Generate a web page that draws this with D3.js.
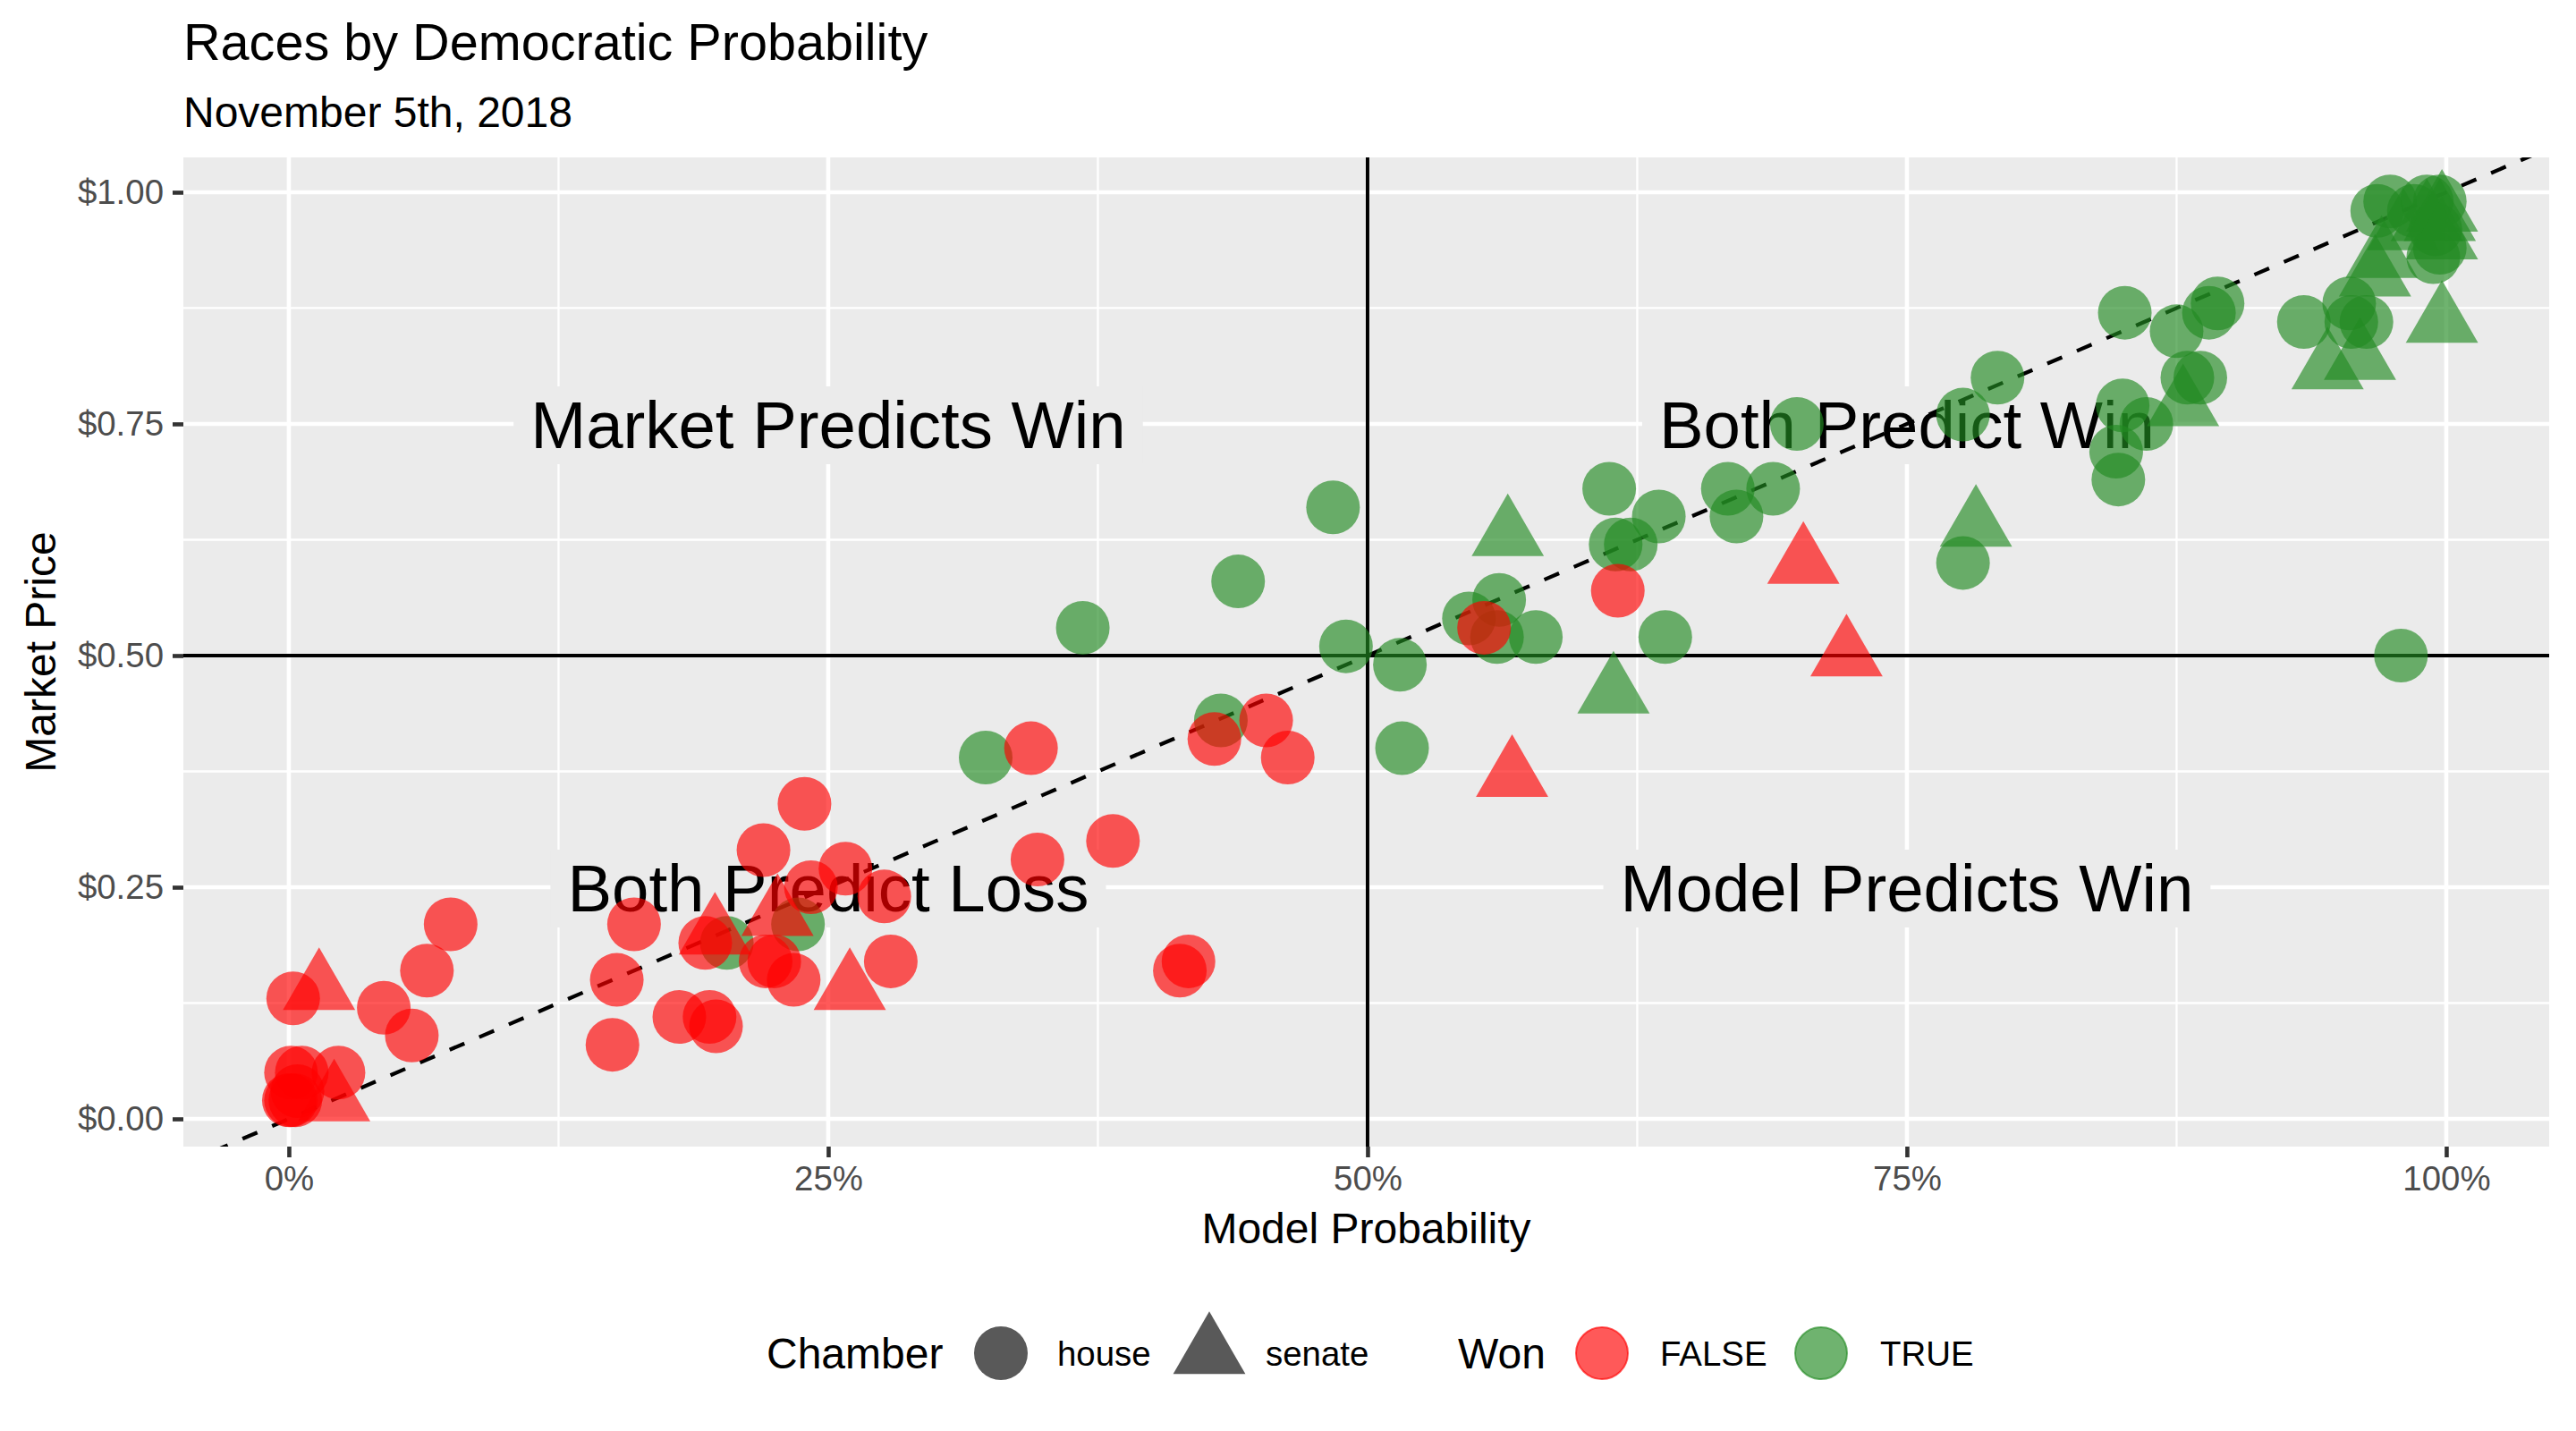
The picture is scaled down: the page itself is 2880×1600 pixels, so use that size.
<!DOCTYPE html>
<html><head><meta charset="utf-8">
<script src="https://cdn.jsdelivr.net/npm/d3@7"></script>
<style>
body{margin:0;background:#fff}
svg{display:block}
text{font-family:"Liberation Sans",Arial,Helvetica,sans-serif}
</style>
</head><body>
<svg id="chart" width="2880" height="1600"></svg>
<script>
// ---------- DATA ----------
// Green (won) first, then red (lost) so red is drawn on top, as in the reference
const modelProb = [
  // won, house
  0.203,0.236,0.323,0.368,0.432,0.44,0.484,0.49,0.515,0.516,0.547,0.561,0.56,0.578,0.638,0.612,0.615,0.622,0.635,0.667,0.671,0.688,0.699,0.776,0.776,0.792,0.847,0.848,0.85,0.851,0.861,0.875,0.88,0.886,0.89,0.894,0.934,0.955,0.956,0.963,0.979,0.968,0.974,0.991,0.997,0.994,0.997,0.995,0.985,
  // won, senate
  0.565,0.614,0.782,0.878,0.945,0.96,0.998,0.967,0.97,0.98,0.998,0.991,0.997,0.998,
  // lost, house
  0.002,0.044,0.057,0.064,0.075,0.001,0.006,0.023,0.001,0.003,0.004,0.0,0.15,0.152,0.16,0.181,0.195,0.198,0.193,0.22,0.239,0.258,0.242,0.276,0.279,0.221,0.225,0.234,0.344,0.347,0.382,0.413,0.417,0.429,0.453,0.463,0.554,0.616,
  // lost, senate
  0.014,0.021,0.1975,0.2265,0.26,0.567,0.702,0.722
];
const marketPrice = [
  0.19,0.21,0.39,0.53,0.43,0.58,0.66,0.51,0.49,0.40,0.54,0.56,0.52,0.52,0.52,0.68,0.62,0.62,0.65,0.68,0.65,0.68,0.75,0.60,0.76,0.80,0.72,0.69,0.77,0.87,0.75,0.85,0.80,0.80,0.87,0.88,0.86,0.88,0.86,0.86,0.50,0.98,0.99,0.99,0.99,0.93,0.94,0.96,0.98,
  0.63,0.46,0.64,0.77,0.81,0.82,0.86,0.91,0.93,0.96,0.98,0.97,0.97,0.95,
  0.13,0.12,0.09,0.16,0.21,0.05,0.05,0.05,0.02,0.02,0.03,0.02,0.08,0.15,0.21,0.11,0.11,0.10,0.19,0.29,0.34,0.27,0.25,0.24,0.17,0.17,0.17,0.15,0.40,0.28,0.30,0.16,0.17,0.41,0.43,0.39,0.53,0.57,
  0.14,0.02,0.20,0.22,0.14,0.37,0.60,0.50
];
const chamber = [].concat(
  Array(49).fill("house"), Array(14).fill("senate"),
  Array(38).fill("house"), Array(8).fill("senate")
);
const won = [].concat(
  Array(49).fill(true), Array(14).fill(true),
  Array(38).fill(false), Array(8).fill(false)
);

const xTicks = [0, 0.25, 0.5, 0.75, 1];
const xTickLabels = ["0%", "25%", "50%", "75%", "100%"];
const yTicks = [0, 0.25, 0.5, 0.75, 1];
const yTickLabels = ["$0.00", "$0.25", "$0.50", "$0.75", "$1.00"];
const xMinor = [0.125, 0.375, 0.625, 0.875];
const yMinor = [0.125, 0.375, 0.625, 0.875];

const quadLabels = ["Market Predicts Win", "Both Predict Win", "Both Predict Loss", "Model Predicts Win"];
const quadX = [0.25, 0.75, 0.25, 0.75];
const quadY = [0.75, 0.75, 0.25, 0.25];

const chamberLevels = ["house", "senate"];
const wonLevels = ["FALSE", "TRUE"];
const wonColors = ["#FF0000", "#228B22"];

// ---------- LAYOUT ----------
const svg = d3.select("#chart");
const P = {left: 205, right: 2850, top: 176, bottom: 1282};
const x = d3.scaleLinear().domain([-0.0489, 1.0477]).range([P.left, P.right]);
const y = d3.scaleLinear().domain([-0.0299, 1.0376]).range([P.bottom, P.top]);
const color = d3.scaleOrdinal().domain([false, true]).range(wonColors);
const ALPHA = 0.65;
const R = 30;
const triPath = `M0,${-1.555*R}L${1.347*R},${0.778*R}L${-1.347*R},${0.778*R}Z`;

// Titles
svg.append("text").attr("x", P.left).attr("y", 67).attr("font-size", 57.6).attr("fill", "#000")
  .text("Races by Democratic Probability");
svg.append("text").attr("x", P.left).attr("y", 142).attr("font-size", 48).attr("fill", "#000")
  .text("November 5th, 2018");

// Panel
svg.append("defs").append("clipPath").attr("id", "clip")
  .append("rect").attr("x", P.left).attr("y", P.top).attr("width", P.right - P.left).attr("height", P.bottom - P.top);
svg.append("rect").attr("x", P.left).attr("y", P.top).attr("width", P.right - P.left).attr("height", P.bottom - P.top)
  .attr("fill", "#EBEBEB");

const grid = svg.append("g");
grid.selectAll(".vminor").data(xMinor).join("line")
  .attr("x1", d => x(d)).attr("x2", d => x(d)).attr("y1", P.top).attr("y2", P.bottom)
  .attr("stroke", "#fff").attr("stroke-width", 2.3);
grid.selectAll(".hminor").data(yMinor).join("line")
  .attr("y1", d => y(d)).attr("y2", d => y(d)).attr("x1", P.left).attr("x2", P.right)
  .attr("stroke", "#fff").attr("stroke-width", 2.3);
grid.selectAll(".vmajor").data(xTicks).join("line")
  .attr("x1", d => x(d)).attr("x2", d => x(d)).attr("y1", P.top).attr("y2", P.bottom)
  .attr("stroke", "#fff").attr("stroke-width", 4.6);
grid.selectAll(".hmajor").data(yTicks).join("line")
  .attr("y1", d => y(d)).attr("y2", d => y(d)).attr("x1", P.left).attr("x2", P.right)
  .attr("stroke", "#fff").attr("stroke-width", 4.6);

// Quadrant labels (background box hides gridlines)
const labG = svg.append("g");
quadLabels.forEach((t, i) => {
  const g = labG.append("g");
  const rect = g.append("rect");
  const tx = g.append("text").attr("x", x(quadX[i])).attr("y", y(quadY[i]) + 27)
    .attr("text-anchor", "middle").attr("font-size", 74.4).attr("fill", "#000").text(t);
  const w = tx.node().getComputedTextLength();
  rect.attr("x", x(quadX[i]) - w / 2 - 19).attr("y", y(quadY[i]) - 42)
    .attr("width", w + 38).attr("height", 87).attr("fill", "#EBEBEB");
});

// Reference lines
const lines = svg.append("g").attr("clip-path", "url(#clip)");
lines.append("line").attr("x1", P.left).attr("x2", P.right).attr("y1", y(0.5)).attr("y2", y(0.5))
  .attr("stroke", "#000").attr("stroke-width", 4);
lines.append("line").attr("x1", x(0.5)).attr("x2", x(0.5)).attr("y1", P.top).attr("y2", P.bottom)
  .attr("stroke", "#000").attr("stroke-width", 4);
const d0 = x.domain()[0], d1 = x.domain()[1];
lines.append("line").attr("x1", x(d0)).attr("y1", y(d0)).attr("x2", x(d1)).attr("y2", y(d1))
  .attr("stroke", "#000").attr("stroke-width", 4.3).attr("stroke-dasharray", "18,18");

// Points
const idx = d3.range(modelProb.length);
const pts = svg.append("g").attr("clip-path", "url(#clip)");
pts.selectAll("path").data(idx).join("path")
  .attr("d", i => chamber[i] === "house" ? null : triPath)
  .attr("transform", i => `translate(${x(modelProb[i])},${y(marketPrice[i])})`)
  .each(function(i) {
    if (chamber[i] === "house") {
      d3.select(this).attr("d", d3.arc()({innerRadius: 0, outerRadius: R, startAngle: 0, endAngle: 2 * Math.PI}));
    }
  })
  .attr("fill", i => color(won[i])).attr("fill-opacity", ALPHA);

// Axes
const xAxis = svg.append("g").attr("transform", `translate(0,${P.bottom})`)
  .call(d3.axisBottom(x).tickValues(xTicks).tickFormat((d, i) => xTickLabels[i]).tickSize(12).tickPadding(10));
const yAxis = svg.append("g").attr("transform", `translate(${P.left},0)`)
  .call(d3.axisLeft(y).tickValues(yTicks).tickFormat((d, i) => yTickLabels[i]).tickSize(12).tickPadding(10));
[xAxis, yAxis].forEach(a => {
  a.select(".domain").remove();
  a.selectAll(".tick line").attr("stroke", "#333333").attr("stroke-width", 4.6);
  a.selectAll(".tick text").attr("font-size", 38.4).attr("fill", "#4D4D4D")
    .attr("font-family", "'Liberation Sans',Arial,Helvetica,sans-serif");
});

// Axis titles
svg.append("text").attr("x", (P.left + P.right) / 2).attr("y", 1390).attr("text-anchor", "middle")
  .attr("font-size", 48).attr("fill", "#000").text("Model Probability");
svg.append("text").attr("transform", `translate(62,${(P.top + P.bottom) / 2}) rotate(-90)`)
  .attr("text-anchor", "middle").attr("font-size", 48).attr("fill", "#000").text("Market Price");

// Legend
const LY = 1513;
const leg = svg.append("g");
leg.append("text").attr("x", 857).attr("y", LY + 17).attr("font-size", 48).text("Chamber");
leg.append("circle").attr("cx", 1119).attr("cy", LY).attr("r", R).attr("fill", "#000").attr("fill-opacity", ALPHA);
leg.append("text").attr("x", 1182).attr("y", LY + 14).attr("font-size", 38.4).text(chamberLevels[0]);
leg.append("path").attr("d", triPath).attr("transform", `translate(1352,${LY})`).attr("fill", "#000").attr("fill-opacity", ALPHA);
leg.append("text").attr("x", 1415).attr("y", LY + 14).attr("font-size", 38.4).text(chamberLevels[1]);
leg.append("text").attr("x", 1630).attr("y", LY + 17).attr("font-size", 48).text("Won");
const keyX = [1791, 2036], txtX = [1856, 2102];
wonLevels.forEach((lv, i) => {
  leg.append("circle").attr("cx", keyX[i]).attr("cy", LY).attr("r", R - 1)
    .attr("fill", wonColors[i]).attr("fill-opacity", ALPHA)
    .attr("stroke", wonColors[i]).attr("stroke-opacity", ALPHA).attr("stroke-width", 2);
  leg.append("text").attr("x", txtX[i]).attr("y", LY + 14).attr("font-size", 38.4).text(lv);
});
</script>
</body></html>
